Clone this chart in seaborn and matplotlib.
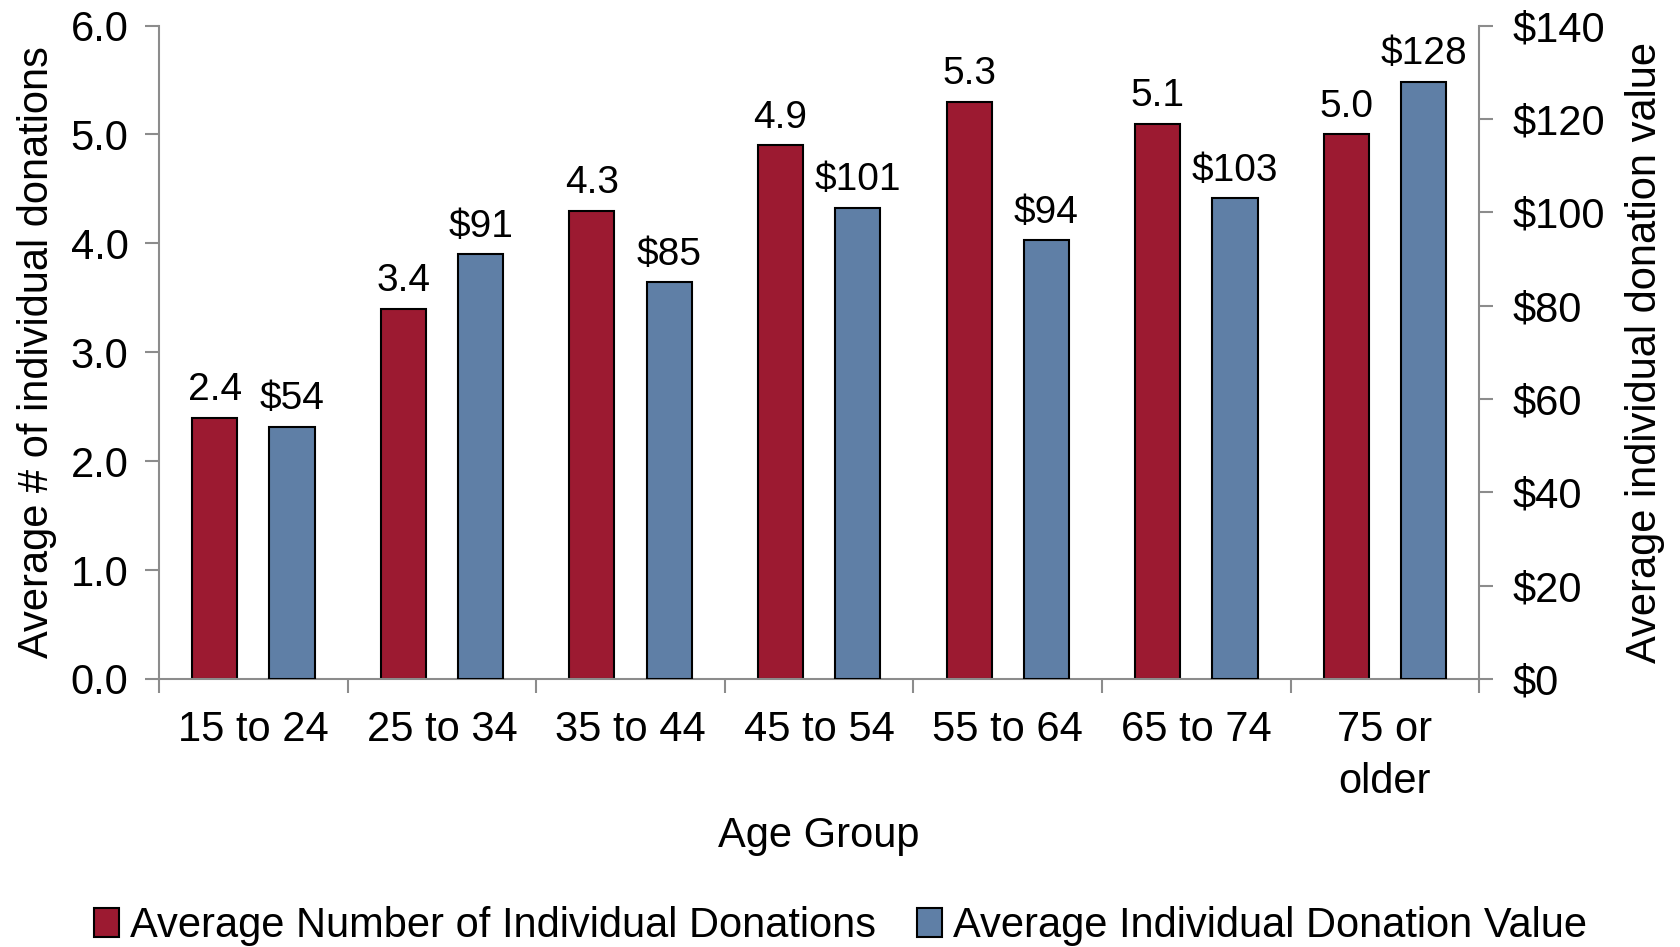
import matplotlib
matplotlib.use("Agg")
import matplotlib.pyplot as plt
import seaborn as sns
import pandas as pd
import numpy as np
from matplotlib.ticker import FuncFormatter, MultipleLocator, FixedLocator
from matplotlib.patches import Patch

categories = ["15 to 24", "25 to 34", "35 to 44", "45 to 54", "55 to 64", "65 to 74", "75 or\nolder"]
avg_number = [2.4, 3.4, 4.3, 4.9, 5.3, 5.1, 5.0]
avg_value = [54, 91, 85, 101, 94, 103, 128]
series = ["Average Number of Individual Donations", "Average Individual Donation Value"]
colors = ["#9C1A31", "#5F7FA6"]

sns.set_theme(style="white")
plt.rcParams["font.family"] = ["Liberation Sans", "DejaVu Sans"]
plt.rcParams["text.color"] = "black"
plt.rcParams["axes.labelcolor"] = "black"
plt.rcParams["xtick.labelcolor"] = "black"
plt.rcParams["ytick.labelcolor"] = "black"

df_num = pd.DataFrame({"cat": categories, "series": series[0], "val": avg_number})
df_val = pd.DataFrame({"cat": categories, "series": series[1], "val": avg_value})

fig = plt.figure(figsize=(16.81, 9.47), dpi=100)
ax = fig.add_axes([0.0946, 0.283, 0.7854, 0.690])
ax2 = ax.twinx()

kw = dict(x="cat", y="val", hue="series", hue_order=series, order=categories,
          palette=colors, saturation=1, width=0.82, gap=0.417, dodge=True,
          edgecolor="black", linewidth=1.5, errorbar=None, legend=False)
sns.barplot(data=df_num, ax=ax, **kw)
sns.barplot(data=df_val, ax=ax2, **kw)

ax.set_ylim(0, 6)
ax2.set_ylim(0, 140)
ax.set_xlim(-0.5, len(categories) - 0.5)
ax.yaxis.set_major_locator(MultipleLocator(1))
ax2.yaxis.set_major_locator(MultipleLocator(20))
ax.yaxis.set_major_formatter(FuncFormatter(lambda v, p: f"{v:.1f}"))
ax2.yaxis.set_major_formatter(FuncFormatter(lambda v, p: f"${v:.0f}"))

for c in ax.containers:
    ax.bar_label(c, labels=[f"{v:.1f}" for v in c.datavalues],
                 padding=7, fontsize=28, color="black")
for c in ax2.containers:
    ax2.bar_label(c, labels=[f"${v:.0f}" for v in c.datavalues],
                  padding=7, fontsize=28, color="black")

spine_col = "#8C8C8C"
for a in (ax, ax2):
    for s in a.spines.values():
        s.set_visible(False)
ax.spines["left"].set_visible(True)
ax.spines["bottom"].set_visible(True)
ax2.spines["right"].set_visible(True)
for s in (ax.spines["left"], ax.spines["bottom"], ax2.spines["right"]):
    s.set_color(spine_col)
    s.set_linewidth(1.5)

ax.tick_params(axis="y", which="major", direction="out", length=10, width=1.5,
               color=spine_col, labelsize=30, left=True, pad=12, labelcolor="black")
ax2.tick_params(axis="y", which="major", direction="out", length=10, width=1.5,
                color=spine_col, labelsize=30, right=True, pad=14, labelcolor="black")

ax.set_xticks(range(len(categories)))
ax.set_xticklabels(categories, fontsize=30, linespacing=1.4)
ax.tick_params(axis="x", which="major", length=0, pad=22, labelcolor="black")
ax.xaxis.set_minor_locator(FixedLocator(np.arange(-0.5, len(categories), 1.0)))
ax.tick_params(axis="x", which="minor", direction="out", length=10, width=1.5,
               color=spine_col, bottom=True)

ax.set_xlabel("Age Group", fontsize=30, labelpad=10)
ax.set_ylabel("Average # of individual donations", fontsize=30, labelpad=10)
ax2.set_ylabel("Average individual donation value", fontsize=30, labelpad=14)
ax.grid(False)
ax2.grid(False)

handles = [Patch(facecolor=colors[i], edgecolor="black", linewidth=1.5, label=series[i]) for i in range(2)]
fig.legend(handles=handles, loc="lower center", bbox_to_anchor=(0.5, -0.03), ncol=2,
           frameon=False, fontsize=30, handlelength=0.6, handleheight=0.7,
           handletextpad=0.25, columnspacing=1.0, borderpad=0.2)

fig.savefig("out.png", dpi=100)
